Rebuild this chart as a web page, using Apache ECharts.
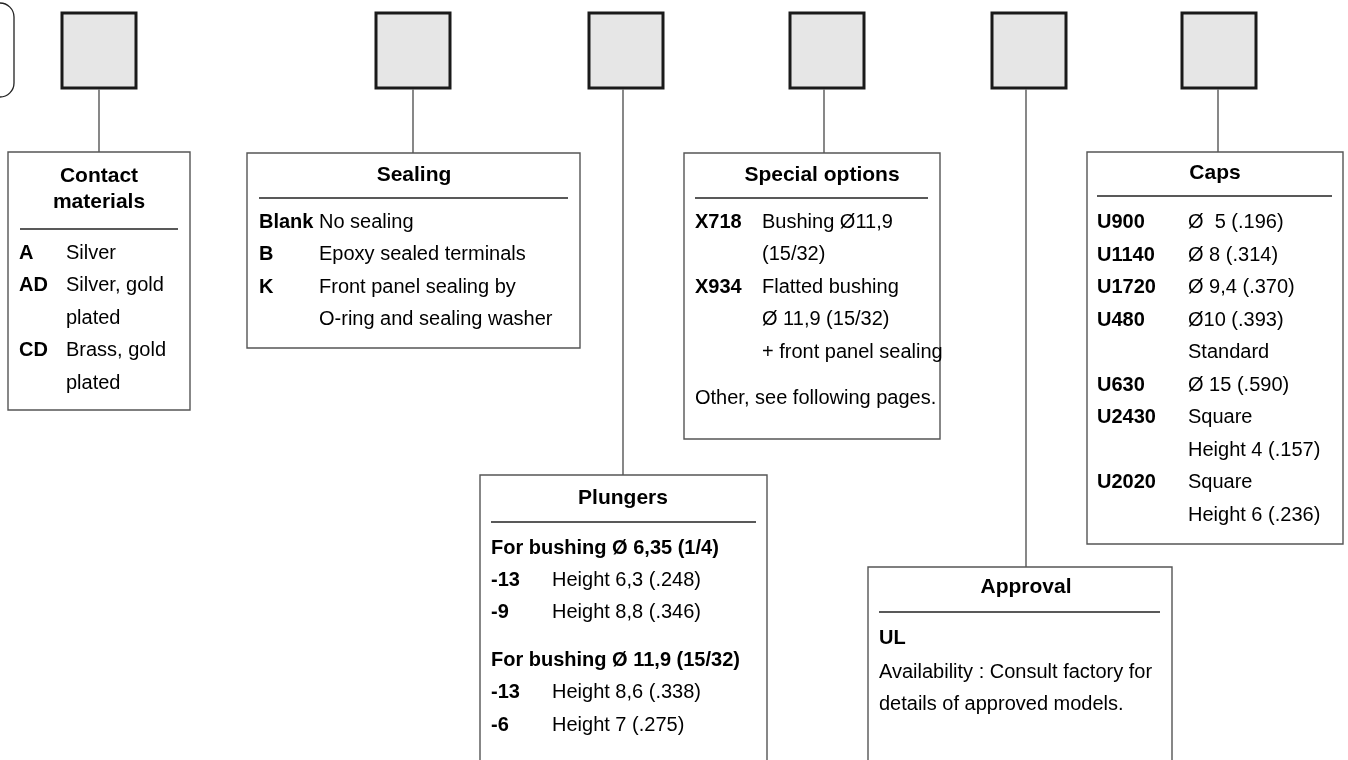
<!DOCTYPE html>
<html><head><meta charset="utf-8">
<script src="https://cdn.jsdelivr.net/npm/echarts@6/dist/echarts.min.js"></script>
<style>html,body{margin:0;padding:0;background:#fff}#c{width:1348px;height:760px}</style>
</head><body><div id="c"></div>
<script>
// ---- content (text data) ----
const titles = [["Contact", "materials"], ["Sealing"], ["Plungers"], ["Special options"], ["Approval"], ["Caps"]];
const contactCodes = ["A", "AD", "", "CD", ""];
const contactItems = ["Silver", "Silver, gold", "plated", "Brass, gold", "plated"];
const sealingCodes = ["Blank", "B", "K", ""];
const sealingItems = ["No sealing", "Epoxy sealed terminals", "Front panel sealing by", "O-ring and sealing washer"];
const plungerHeads = ["For bushing Ø 6,35 (1/4)", "For bushing Ø 11,9 (15/32)"];
const plungerCodes = ["-13", "-9", "-13", "-6"];
const plungerItems = ["Height 6,3 (.248)", "Height 8,8 (.346)", "Height 8,6 (.338)", "Height 7 (.275)"];
const specialCodes = ["X718", "", "X934", "", ""];
const specialItems = ["Bushing Ø11,9", "(15/32)", "Flatted bushing", "Ø 11,9 (15/32)", "+ front panel sealing"];
const specialNote = "Other, see following pages.";
const approvalCodes = ["UL"];
const approvalItems = ["Availability : Consult factory for", "details of approved models."];
const capCodes = ["U900", "U1140", "U1720", "U480", "", "U630", "U2430", "", "U2020", ""];
const capItems = ["Ø  5 (.196)", "Ø 8 (.314)", "Ø 9,4 (.370)", "Ø10 (.393)", "Standard", "Ø 15 (.590)", "Square", "Height 4 (.157)", "Square", "Height 6 (.236)"];

// ---- rows built from the content ----
function pairRows(codes, items) { return items.map((t, i) => ({ code: codes[i] || "", text: t })); }
const boxRows = [
  pairRows(contactCodes, contactItems),
  pairRows(sealingCodes, sealingItems),
  [{ head: plungerHeads[0] }].concat(pairRows(plungerCodes.slice(0, 2), plungerItems.slice(0, 2)),
    [{ head: plungerHeads[1] }], pairRows(plungerCodes.slice(2), plungerItems.slice(2))),
  pairRows(specialCodes, specialItems).concat([{ full: specialNote }]),
  [{ head: approvalCodes[0] }].concat(approvalItems.map(t => ({ full: t }))),
  pairRows(capCodes, capItems)
];

// ---- layout (pixel units of the hidden axes) ----
const layout = [
  { sq: 99, box: [8, 152, 190, 410], titleX: 99, titleY: [176, 202], sep: [20, 178, 229], codeX: 19, descX: 66, rowY: [253, 285, 318, 350, 383] },
  { sq: 413, box: [247, 153, 580, 348], titleX: 414, titleY: [175], sep: [259, 568, 198], codeX: 259, descX: 319, rowY: [222, 254, 287, 319] },
  { sq: 626, box: [480, 475, 767, 800], titleX: 623, titleY: [498], sep: [491, 756, 522], codeX: 491, descX: 552, rowY: [548, 580, 612, 660, 692, 725], lineX: 623 },
  { sq: 827, box: [684, 153, 940, 439], titleX: 822, titleY: [175], sep: [695, 928, 198], codeX: 695, descX: 762, rowY: [222, 254, 287, 319, 352, 398], lineX: 824 },
  { sq: 1029, box: [868, 567, 1172, 800], titleX: 1026, titleY: [587], sep: [879, 1160, 612], codeX: 879, descX: 879, rowY: [638, 672, 704], lineX: 1026 },
  { sq: 1219, box: [1087, 152, 1343, 544], titleX: 1215, titleY: [173], sep: [1097, 1332, 196], codeX: 1097, descX: 1188, rowY: [222, 255, 287, 320, 352, 385, 417, 450, 482, 515], lineX: 1218 }
];
const SQ_TOP = 13, SQ_BOT = 88, SQ_HALF = 37;
const FONT = '"Liberation Sans", Arial, sans-serif';

function renderItem(params, api) {
  const i = params.dataIndex;
  const L = layout[i];
  const P = (x, y) => api.coord([x, y]);
  const children = [];
  const lx = L.lineX !== undefined ? L.lineX : L.sq;
  // square
  const a = P(L.sq - SQ_HALF, SQ_TOP), b = P(L.sq + SQ_HALF, SQ_BOT);
  children.push({ type: 'rect', shape: { x: a[0], y: a[1], width: b[0] - a[0], height: b[1] - a[1] },
    style: { fill: '#e6e6e6', stroke: '#1a1a1a', lineWidth: 3 } });
  // connector
  const c1 = P(lx, SQ_BOT), c2 = P(lx, L.box[1]);
  children.push({ type: 'line', shape: { x1: c1[0], y1: c1[1] + 1.5, x2: c2[0], y2: c2[1] }, style: { stroke: '#555', lineWidth: 1.4 } });
  // box
  const p = P(L.box[0], L.box[1]), q = P(L.box[2], L.box[3]);
  children.push({ type: 'rect', shape: { x: p[0], y: p[1], width: q[0] - p[0], height: q[1] - p[1] },
    style: { fill: 'none', stroke: '#555', lineWidth: 1.4 } });
  // title
  titles[i].forEach((t, k) => {
    const tp = P(L.titleX, L.titleY[k]);
    children.push({ type: 'text', style: { text: t, x: tp[0], y: tp[1], fill: '#000', font: 'bold 21px ' + FONT,
      align: 'center', verticalAlign: 'middle', textAlign: 'center', textVerticalAlign: 'middle' } });
  });
  // separator
  const s1 = P(L.sep[0], L.sep[2]), s2 = P(L.sep[1], L.sep[2]);
  children.push({ type: 'line', shape: { x1: s1[0], y1: s1[1], x2: s2[0], y2: s2[1] }, style: { stroke: '#222', lineWidth: 1.3 } });
  // rows
  boxRows[i].forEach((r, k) => {
    const y = L.rowY[k];
    const pushText = (t, x, bold) => {
      const tp = P(x, y);
      children.push({ type: 'text', style: { text: t, x: tp[0], y: tp[1], fill: '#000',
        font: (bold ? 'bold ' : '') + '20px ' + FONT, align: 'left', verticalAlign: 'middle', textAlign: 'left', textVerticalAlign: 'middle' } });
    };
    if (r.head) pushText(r.head, L.codeX, true);
    if (r.code) pushText(r.code, L.codeX, true);
    if (r.text) pushText(r.text, L.descX, false);
    if (r.full) pushText(r.full, L.codeX, false);
  });
  return { type: 'group', children };
}

function renderPrev(params, api) {
  // partially visible rounded frame at the left edge
  const a = api.coord([-40, 3]), b = api.coord([14, 97]);
  return { type: 'rect', shape: { x: a[0], y: a[1], width: b[0] - a[0], height: b[1] - a[1], r: 14 },
    style: { fill: 'none', stroke: '#222', lineWidth: 1.3 } };
}

const chart = echarts.init(document.getElementById('c'), null, { renderer: 'canvas' });
chart.setOption({
  animation: false,
  backgroundColor: '#fff',
  grid: { left: 0, right: 0, top: 0, bottom: 0 },
  xAxis: { type: 'value', min: 0, max: 1348, show: false },
  yAxis: { type: 'value', min: 0, max: 760, inverse: true, show: false },
  series: [
    { type: 'custom', renderItem: renderPrev, data: [[0, 0]], clip: false, silent: true },
    { type: 'custom', renderItem: renderItem, data: titles.map((t, i) => [i, 0]), clip: false, silent: true }
  ]
});
</script></body></html>
